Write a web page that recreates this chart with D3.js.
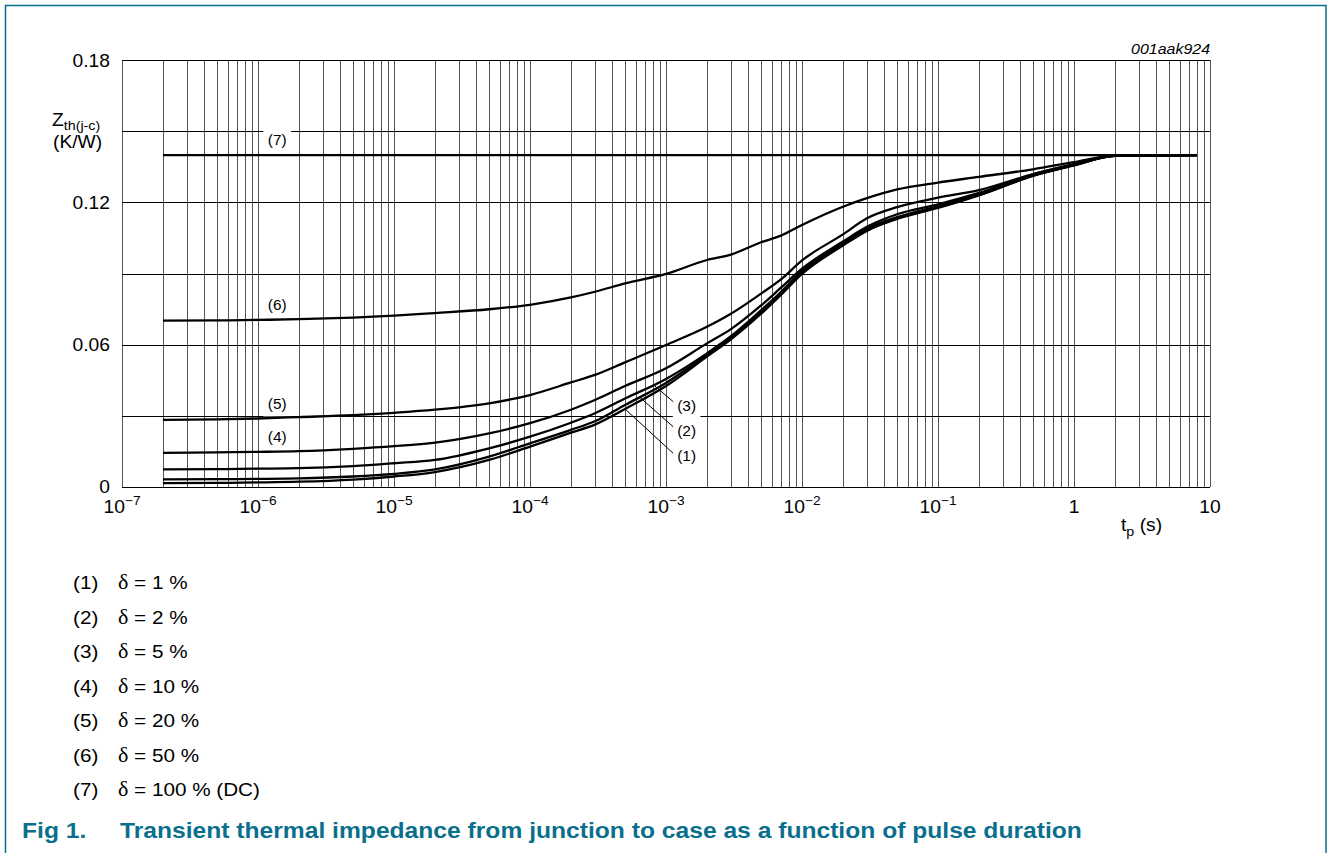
<!DOCTYPE html>
<html>
<head>
<meta charset="utf-8">
<title>Transient thermal impedance</title>
<script src="https://d3js.org/d3.v7.min.js"></script>
<style>
  body { margin: 0; background: #fff; }
  svg { display: block; font-family: "Liberation Sans", Arial, sans-serif; }
  .grid-v { stroke: #555; stroke-width: 1; shape-rendering: crispEdges; }
  .grid-h { stroke: #000; stroke-width: 1; shape-rendering: crispEdges; }
  .curve { fill: none; stroke: #000; stroke-width: 2.3; stroke-linejoin: round; }
  .delta { font-family: "Liberation Serif", "DejaVu Serif", serif; }
</style>
</head>
<body>
<svg width="1328" height="853"></svg>
<script>
// pulse duration grid, seconds
const tp = [2e-7, 5e-7, 1e-6, 2e-6, 5e-6, 1e-5, 2e-5, 5e-5, 1e-4, 2e-4, 3e-4, 5e-4,
            1e-3, 2e-3, 3e-3, 5e-3, 7e-3, 1e-2, 2e-2, 3e-2, 5e-2, 0.1, 0.2, 0.5, 1, 2, 8];

// Zth(j-c) in K/W
const zth1 = [0.0015, 0.0016, 0.0018, 0.0021, 0.0030, 0.0043, 0.0062, 0.0113, 0.0169, 0.0228, 0.0262, 0.0328,
              0.0425, 0.0549, 0.0622, 0.0730, 0.0810, 0.0898, 0.1018, 0.1080, 0.1130, 0.1177, 0.1230, 0.1312, 0.1356, 0.1397, 0.140];
const zth2 = [0.0031, 0.0032, 0.0033, 0.0035, 0.0043, 0.0054, 0.0073, 0.0127, 0.0183, 0.0240, 0.0276, 0.0345,
              0.0438, 0.0556, 0.0628, 0.0735, 0.0815, 0.0903, 0.1022, 0.1085, 0.1133, 0.1180, 0.1232, 0.1313, 0.1357, 0.1397, 0.140];
const zth3 = [0.0073, 0.0074, 0.0076, 0.0078, 0.0087, 0.0099, 0.0113, 0.0162, 0.0211, 0.0270, 0.0310, 0.0372,
              0.0455, 0.0563, 0.0635, 0.0745, 0.0822, 0.0910, 0.1027, 0.1090, 0.1138, 0.1185, 0.1235, 0.1315, 0.1358, 0.1397, 0.140];
const zth4 = [0.0143, 0.0145, 0.0147, 0.0150, 0.0160, 0.0171, 0.0186, 0.0225, 0.0268, 0.0325, 0.0366, 0.0425,
              0.0500, 0.0605, 0.0665, 0.0765, 0.0840, 0.0920, 0.1035, 0.1097, 0.1150, 0.1192, 0.1240, 0.1318, 0.1360, 0.1398, 0.140];
const zth5 = [0.0282, 0.0284, 0.0288, 0.0294, 0.0302, 0.0312, 0.0325, 0.0352, 0.0387, 0.0440, 0.0472, 0.0525,
              0.0598, 0.0675, 0.0730, 0.0815, 0.0875, 0.0955, 0.1065, 0.1133, 0.1180, 0.1220, 0.1252, 0.1320, 0.1362, 0.1398, 0.140];
const zth6 = [0.0701, 0.0702, 0.0704, 0.0707, 0.0714, 0.0722, 0.0733, 0.0749, 0.0768, 0.0799, 0.0823, 0.0858,
              0.0898, 0.0957, 0.0980, 0.1032, 0.1060, 0.1105, 0.1182, 0.1218, 0.1255, 0.1284, 0.1308, 0.1340, 0.1370, 0.1398, 0.140];
const tp7 = [2e-7, 8];
const zth7 = [0.140, 0.140];

const curveIds = ["(1)", "(2)", "(3)", "(4)", "(5)", "(6)", "(7)"];
const legendText = ["= 1 %", "= 2 %", "= 5 %", "= 10 %", "= 20 %", "= 50 %", "= 100 % (DC)"];

const yTicks = [0, 0.06, 0.12, 0.18];
const yGrid = [0, 0.03, 0.06, 0.09, 0.12, 0.15, 0.18];
const xDecades = [-7, -6, -5, -4, -3, -2, -1, 0, 1];

// curve labels placed in data space (t, z at the text's middle)
const sideLabels = [
  { id: "(7)", t: 1.18e-6, z: 0.1463 },
  { id: "(6)", t: 1.18e-6, z: 0.0767 },
  { id: "(5)", t: 1.18e-6, z: 0.0351 },
  { id: "(4)", t: 1.18e-6, z: 0.0212 }
];
// callouts with leader lines: from curve at tFrom, to (tTo, zTo)
const callouts = [
  { id: "(3)", curve: 2, tFrom: 8.1e-4, tTo: 1.13e-3, zTo: 0.0359, zText: 0.0343 },
  { id: "(2)", curve: 1, tFrom: 6.4e-4, tTo: 1.13e-3, zTo: 0.0253, zText: 0.0237 },
  { id: "(1)", curve: 0, tFrom: 5.0e-4, tTo: 1.13e-3, zTo: 0.0141, zText: 0.0131 }
];

const svg = d3.select("svg");
const teal = "#0a6f8c";
const SX = 1.1; // the datasheet type is a little wide for its height

// text in a group that is stretched sideways about its anchor point
function stext(parent, px, py, size) {
  return parent.append("g")
    .attr("transform", `translate(${px},${py}) scale(${SX},1)`)
    .append("text")
    .style("font-size", size + "px");
}

// page frame
svg.append("rect")
  .attr("x", 5.5).attr("y", 5.5)
  .attr("width", 1320.5).attr("height", 900)
  .attr("fill", "none").attr("stroke", teal).attr("stroke-width", 1.5);

const x = d3.scaleLog().domain([1e-7, 10]).range([122, 1210]);
const y = d3.scaleLinear().domain([0, 0.18]).range([486.7, 60.3]);

// grid
svg.append("g").selectAll("line")
  .data(x.ticks())
  .join("line")
    .attr("class", "grid-v")
    .attr("x1", d => Math.round(x(d)) + 0.5).attr("x2", d => Math.round(x(d)) + 0.5)
    .attr("y1", y(0.18)).attr("y2", y(0));

svg.append("g").selectAll("line")
  .data(yGrid)
  .join("line")
    .attr("class", "grid-h")
    .attr("x1", x(1e-7)).attr("x2", x(10))
    .attr("y1", d => Math.round(y(d)) + 0.5).attr("y2", d => Math.round(y(d)) + 0.5);

// y tick labels
const yAx = svg.append("g");
yTicks.forEach(d => {
  stext(yAx, 110, y(d), 17.5)
    .attr("dy", "0.36em")
    .attr("text-anchor", "end")
    .text(d === 0 ? "0" : d.toFixed(2));
});

// x tick labels
const xAx = svg.append("g");
xDecades.forEach(d => {
  const t = stext(xAx, x(Math.pow(10, d)), 513, 17.5).attr("text-anchor", "middle");
  t.append("tspan").text(d === 0 ? "1" : "10");
  if (d < 0) {
    t.append("tspan").attr("dy", -8).style("font-size", "12.5px").text("\u2212" + (-d));
  }
});

// axis titles
const yt = stext(svg, 52, 126, 17.5);
yt.append("tspan").text("Z");
yt.append("tspan").attr("dy", 4).style("font-size", "13px").text("th(j-c)");
stext(svg, 53, 148, 17.5).text("(K/W)");

const xt = stext(svg, 1121, 531, 17.5);
xt.append("tspan").text("t");
xt.append("tspan").attr("dy", 5).style("font-size", "13px").text("p");
xt.append("tspan").attr("dy", -5).text(" (s)");

stext(svg, 1210, 54, 14.5)
  .attr("text-anchor", "end")
  .style("font-style", "italic")
  .text("001aak924");

// label backgrounds and labels
function labelWithBg(parent, id, px, py) {
  const t = stext(parent, px, py, 14).attr("dy", "0.36em").text(id);
  const b = t.node().getBBox();
  d3.select(t.node().parentNode).insert("rect", "text")
    .attr("x", b.x - 4).attr("y", b.y - 5)
    .attr("width", b.width + 8).attr("height", b.height + 10)
    .attr("fill", "#fff");
}

const lblG = svg.append("g");
sideLabels.forEach(d => labelWithBg(lblG, d.id, x(d.t), y(d.z)));
callouts.forEach(d => labelWithBg(lblG, d.id, x(d.tTo) + 4, y(d.zText)));

// curves
const series = [zth1, zth2, zth3, zth4, zth5, zth6].map((vals, i) => ({
  id: curveIds[i],
  points: tp.map((t, j) => ({ t: t, z: vals[j] }))
}));
series.push({ id: curveIds[6], points: tp7.map((t, j) => ({ t: t, z: zth7[j] })) });

const line = d3.line()
  .x(d => x(d.t))
  .y(d => y(d.z))
  .curve(d3.curveMonotoneX);

svg.append("g").selectAll("path")
  .data(series)
  .join("path")
    .attr("class", "curve")
    .attr("stroke-width", d => d.id === "(7)" ? 2.7 : 2.3)
    .attr("d", d => line(d.points));

// leader lines
function zAt(points, t) {
  const lt = Math.log10(t);
  for (let i = 1; i < points.length; i++) {
    const a = points[i - 1], b = points[i];
    if (t <= b.t) {
      const f = (lt - Math.log10(a.t)) / (Math.log10(b.t) - Math.log10(a.t));
      return a.z + f * (b.z - a.z);
    }
  }
  return points[points.length - 1].z;
}

svg.append("g").selectAll("line")
  .data(callouts)
  .join("line")
    .attr("x1", d => x(d.tFrom)).attr("y1", d => y(zAt(series[d.curve].points, d.tFrom)))
    .attr("x2", d => x(d.tTo)).attr("y2", d => y(d.zTo))
    .attr("stroke", "#000").attr("stroke-width", 1);

// legend
const leg = svg.append("g");
curveIds.forEach((id, i) => {
  const yy = 589 + i * 34.5;
  stext(leg, 73, yy, 18.8).text(id);
  const t = stext(leg, 118, yy, 18.8);
  t.append("tspan").attr("class", "delta").style("font-size", "20px").text("\u03b4");
  t.append("tspan").text(" " + legendText[i]);
});

// caption
const cap = svg.append("g").style("fill", teal).style("font-weight", "bold");
stext(cap, 22, 838, 22.4).text("Fig 1.");
stext(cap, 120, 838, 22.4)
  .text("Transient thermal impedance from junction to case as a function of pulse duration");
</script>
</body>
</html>
